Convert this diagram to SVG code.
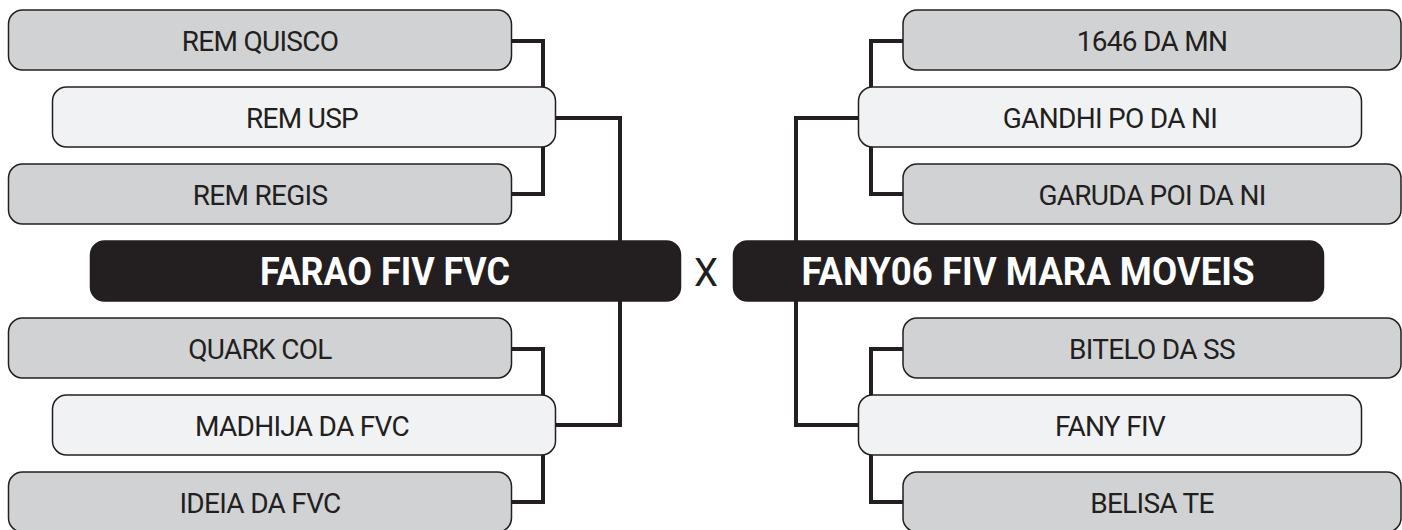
<svg xmlns="http://www.w3.org/2000/svg" width="1402" height="530" viewBox="0 0 1402 530">
<style>
.gray{fill:#d1d2d4;stroke:#231f20;stroke-width:1.5}
.light{fill:#f1f2f3;stroke:#231f20;stroke-width:1.5}
.dark{fill:#231f20;stroke:#231f20;stroke-width:1.5}
.t{font-family:Roboto,"Liberation Sans",Arial,sans-serif;font-size:28px;font-weight:normal;fill:#231f20;text-anchor:middle;letter-spacing:-0.7px}
.tt{font-family:Roboto,"Liberation Sans",Arial,sans-serif;font-size:38px;font-weight:bold;fill:#ffffff;text-anchor:middle}
.x{font-family:Roboto,"Liberation Sans",Arial,sans-serif;font-size:38px;fill:#231f20;text-anchor:middle}
.c{fill:none;stroke:#231f20;stroke-width:4}
</style>
<rect width="1402" height="530" fill="#ffffff"/>
<g id="connectors">
<path class="c" d="M512,41 H543 V87"/>
<path class="c" d="M512,194 H543 V147"/>
<path class="c" d="M556,118 H620 V241"/>
<path class="c" d="M620,301 V425 H556"/>
<path class="c" d="M512,349 H543 V395"/>
<path class="c" d="M512,502 H543 V455"/>
<path class="c" d="M903,41 H871 V87"/>
<path class="c" d="M903,194 H871 V147"/>
<path class="c" d="M858,118 H796 V241"/>
<path class="c" d="M796,301 V425 H858"/>
<path class="c" d="M903,349 H871 V395"/>
<path class="c" d="M903,502 H871 V455"/>
</g>
<g id="rem-quisco"><rect class="gray" x="8.5" y="10" width="503" height="60" rx="14"/><text class="t" x="260" y="51">REM QUISCO</text></g>
<g id="rem-usp"><rect class="light" x="52.5" y="87" width="503" height="60" rx="14"/><text class="t" x="302" y="128">REM USP</text></g>
<g id="rem-regis"><rect class="gray" x="8.5" y="164" width="503" height="60" rx="14"/><text class="t" x="260" y="205">REM REGIS</text></g>
<g id="farao"><rect class="dark" x="90.5" y="241" width="590" height="60" rx="14"/><text class="tt" x="385" y="285" textLength="250" lengthAdjust="spacingAndGlyphs">FARAO FIV FVC</text></g>
<g id="quark-col"><rect class="gray" x="8.5" y="318" width="503" height="60" rx="14"/><text class="t" x="260" y="359">QUARK COL</text></g>
<g id="madhija"><rect class="light" x="52.5" y="395" width="503" height="60" rx="14"/><text class="t" x="302" y="436">MADHIJA DA FVC</text></g>
<g id="ideia"><rect class="gray" x="8.5" y="472" width="503" height="60" rx="14"/><text class="t" x="260" y="513">IDEIA DA FVC</text></g>
<g id="versus"><text class="x" x="706" y="286" textLength="24" lengthAdjust="spacingAndGlyphs">X</text></g>
<g id="fany06"><rect class="dark" x="733.5" y="241" width="590" height="60" rx="14"/><text class="tt" x="1028" y="285" textLength="453" lengthAdjust="spacingAndGlyphs">FANY06 FIV MARA MOVEIS</text></g>
<g id="n1646"><rect class="gray" x="903" y="10" width="498" height="60" rx="14"/><text class="t" x="1152" y="51">1646 DA MN</text></g>
<g id="gandhi"><rect class="light" x="858.5" y="87" width="503" height="60" rx="14"/><text class="t" x="1110" y="128">GANDHI PO DA NI</text></g>
<g id="garuda"><rect class="gray" x="903" y="164" width="498" height="60" rx="14"/><text class="t" x="1152" y="205">GARUDA POI DA NI</text></g>
<g id="bitelo"><rect class="gray" x="903" y="318" width="498" height="60" rx="14"/><text class="t" x="1152" y="359">BITELO DA SS</text></g>
<g id="fany-fiv"><rect class="light" x="858.5" y="395" width="503" height="60" rx="14"/><text class="t" x="1110" y="436">FANY FIV</text></g>
<g id="belisa"><rect class="gray" x="903" y="472" width="498" height="60" rx="14"/><text class="t" x="1152" y="513">BELISA TE</text></g>
</svg>
